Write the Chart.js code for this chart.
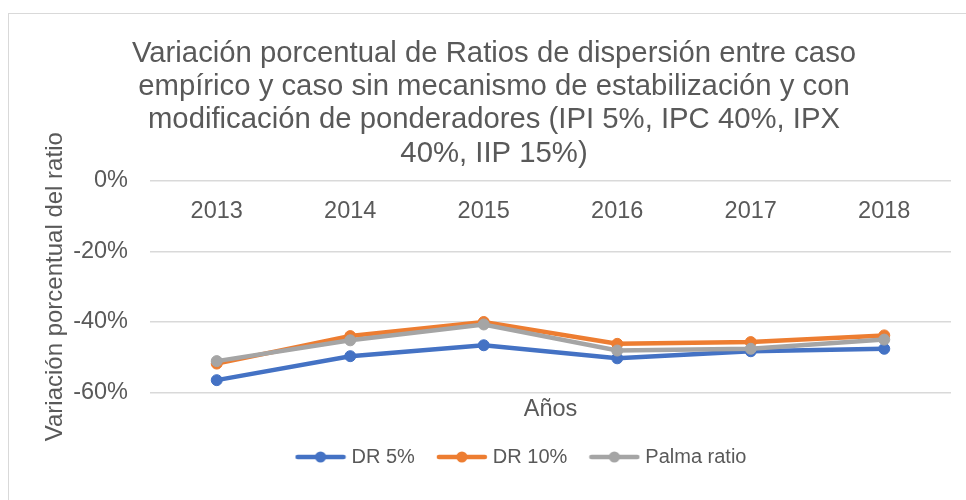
<!DOCTYPE html>
<html>
<head>
<meta charset="utf-8">
<script src="https://cdn.jsdelivr.net/npm/chart.js@4"></script>
<style>
  html, body { margin: 0; padding: 0; background: #ffffff; overflow: hidden; }
  #wrap { width: 966px; height: 500px; position: relative; }
</style>
</head>
<body>
<div id="wrap"><canvas id="c" width="966" height="500"></canvas></div>
<script>
const years = ['2013', '2014', '2015', '2016', '2017', '2018'];
const dr5 = [-56.5, -49.7, -46.6, -50.3, -48.3, -47.6];
const dr10 = [-51.8, -44.0, -40.0, -46.2, -45.7, -43.8];
const palma = [-51.1, -45.2, -40.7, -48.1, -47.6, -45.0];
const seriesNames = ['DR 5%', 'DR 10%', 'Palma ratio'];
const yTicks = [0, -20, -40, -60];
const titleLines = [
  'Variación porcentual de Ratios de dispersión entre caso',
  'empírico y caso sin mecanismo de estabilización y con',
  'modificación de ponderadores (IPI 5%, IPC 40%, IPX',
  '40%, IIP 15%)'
];
const yTitle = 'Variación porcentual del ratio';
const xTitle = 'Años';

const colors = ['#4472C4', '#ED7D31', '#A5A5A5'];
const FONT = "'Liberation Sans', Arial, sans-serif";
const TXT = '#595959';

function legendMarker(color) {
  const c = document.createElement('canvas');
  c.width = 52; c.height = 14;
  const g = c.getContext('2d');
  g.strokeStyle = color; g.lineWidth = 4.5; g.lineCap = 'round';
  g.beginPath(); g.moveTo(3, 7); g.lineTo(49, 7); g.stroke();
  g.fillStyle = color;
  g.beginPath(); g.arc(26, 7, 5.5, 0, Math.PI * 2); g.fill();
  return c;
}
const markers = colors.map(legendMarker);

const borderPlugin = {
  id: 'outerBorder',
  beforeDraw(chart) {
    const ctx = chart.ctx;
    ctx.save();
    ctx.strokeStyle = '#d9d9d9';
    ctx.lineWidth = 1;
    ctx.strokeRect(8.5, 13.5, 1100, 600);
    ctx.restore();
  }
};
const legendShift = {
  id: 'legendShift',
  afterLayout(chart) {
    if (chart.legend) { chart.legend.left += 29; chart.legend.right += 29; }
  }
};

function makeDs(label, data, i, order) {
  return {
    label, data,
    borderColor: colors[i], backgroundColor: colors[i],
    pointBackgroundColor: colors[i], pointBorderColor: colors[i],
    borderWidth: 4.5, pointRadius: 5.5, pointBorderWidth: 1,
    tension: 0, order
  };
}

new Chart(document.getElementById('c'), {
  type: 'line',
  data: {
    labels: years,
    datasets: [
      makeDs(seriesNames[0], dr5, 0, 3),
      makeDs(seriesNames[1], dr10, 1, 2),
      makeDs(seriesNames[2], palma, 2, 1)
    ]
  },
  options: {
    responsive: false,
    animation: false,
    events: [],
    layout: { padding: { left: 37, right: 15, top: 0, bottom: 23 } },
    plugins: {
      tooltip: { enabled: false },
      title: {
        display: true,
        text: titleLines,
        color: TXT,
        font: { family: FONT, size: 29.3, weight: 'normal', lineHeight: 1.137 },
        padding: { top: 37, bottom: 10.7 }
      },
      legend: {
        position: 'bottom',
        labels: {
          usePointStyle: true,
          pointStyleWidth: 42,
          padding: 26,
          color: TXT,
          font: { family: FONT, size: 20 },
          generateLabels(chart) {
            return chart.data.datasets.map((ds, i) => ({
              text: ds.label,
              fillStyle: ds.borderColor,
              strokeStyle: ds.borderColor,
              lineWidth: 0,
              pointStyle: markers[i],
              datasetIndex: i,
              hidden: false,
              fontColor: TXT
            }));
          }
        }
      }
    },
    scales: {
      x: {
        type: 'category',
        position: { y: 0 },
        offset: true,
        grid: { display: false, drawTicks: false },
        border: { display: false },
        ticks: { color: TXT, font: { family: FONT, size: 23.5 }, padding: 16, maxRotation: 0 }
      },
      x2: {
        type: 'category',
        axis: 'x',
        position: 'bottom',
        labels: years,
        offset: true,
        grid: { display: false, drawTicks: false },
        border: { display: false },
        ticks: { display: false },
        title: {
          display: true, text: xTitle, color: TXT,
          font: { family: FONT, size: 23.5, lineHeight: 1.0 },
          padding: { top: 5, bottom: 0 }
        }
      },
      y: {
        min: -60, max: 0,
        afterBuildTicks(scale) { scale.ticks = yTicks.map(v => ({ value: v })); },
        grid: { color: '#d9d9d9', lineWidth: 1.5, drawTicks: false },
        border: { display: false },
        ticks: {
          color: TXT, font: { family: FONT, size: 23.5 }, padding: 22,
          callback: v => v + '%'
        },
        title: {
          display: true, text: yTitle, color: TXT,
          font: { family: FONT, size: 24, lineHeight: 1.2 },
          padding: { top: 4, bottom: 4 }
        },
        afterFit(scale) { scale.width = 150 - 37; }
      }
    }
  },
  plugins: [borderPlugin, legendShift]
});
</script>
</body>
</html>
